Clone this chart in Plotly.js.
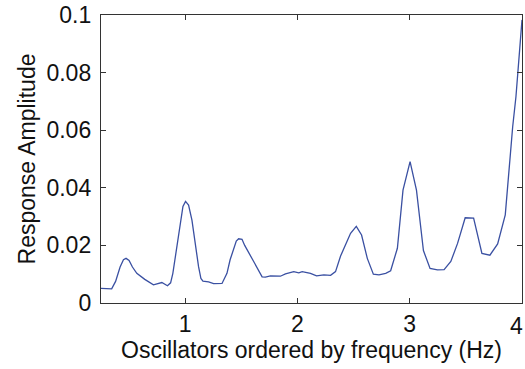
<!DOCTYPE html>
<html>
<head>
<meta charset="utf-8">
<script src="https://cdn.plot.ly/plotly-3.0.1.min.js"></script>
<style>html,body{margin:0;padding:0;background:#fff;}#chart{width:525px;height:369px;}</style>
</head>
<body>
<div id="chart"></div>
<script>
var freqHz = [0.25, 0.345, 0.38, 0.42, 0.45, 0.473, 0.50, 0.53, 0.569, 0.64, 0.717, 0.792, 0.842, 0.87, 0.89, 0.92, 0.955, 0.98, 1.003, 1.03, 1.06, 1.09, 1.119, 1.14, 1.158, 1.208, 1.253, 1.328, 1.372, 1.40, 1.432, 1.455, 1.476, 1.506, 1.53, 1.551, 1.61, 1.685, 1.714, 1.759, 1.848, 1.893, 1.967, 2.012, 2.042, 2.116, 2.17, 2.235, 2.295, 2.339, 2.384, 2.473, 2.524, 2.571, 2.622, 2.676, 2.726, 2.786, 2.83, 2.89, 2.94, 3.003, 3.06, 3.122, 3.181, 3.247, 3.306, 3.366, 3.426, 3.494, 3.569, 3.643, 3.714, 3.783, 3.851, 3.917, 3.946, 4.0];
var amplitude = [0.0051, 0.0049, 0.0075, 0.0125, 0.0150, 0.0155, 0.0148, 0.0125, 0.0103, 0.0082, 0.0063, 0.0071, 0.0060, 0.0070, 0.0103, 0.0180, 0.0265, 0.0335, 0.0353, 0.0340, 0.0288, 0.0200, 0.0126, 0.0085, 0.0076, 0.0073, 0.0067, 0.0068, 0.0103, 0.0150, 0.0190, 0.0215, 0.0223, 0.0221, 0.0200, 0.0184, 0.0144, 0.0091, 0.0090, 0.0094, 0.0093, 0.0101, 0.0109, 0.0105, 0.0109, 0.0103, 0.0094, 0.0098, 0.0096, 0.0109, 0.0163, 0.0242, 0.0266, 0.0236, 0.0155, 0.0100, 0.0098, 0.0103, 0.0112, 0.0190, 0.0392, 0.0491, 0.0392, 0.0182, 0.0120, 0.0115, 0.0116, 0.0144, 0.0207, 0.0296, 0.0295, 0.0172, 0.0166, 0.0205, 0.0306, 0.0612, 0.0716, 0.0983];
var xTicks = [1, 2, 3, 4];
var yTicks = [0, 0.02, 0.04, 0.06, 0.08, 0.1];
var yTickText = ['0', '0.02', '0.04', '0.06', '0.08', '0.1'];

var trace = {
  x: freqHz, y: amplitude, type: 'scatter', mode: 'lines',
  line: {color: '#3a50a2', width: 1.3},
  hoverinfo: 'skip'
};
var fontFam = 'Liberation Sans, Arial, Helvetica, sans-serif';
var fs = 23;
var layout = {
  width: 525, height: 369,
  margin: {l: 101, r: 3, t: 15, b: 66},
  paper_bgcolor: '#fff', plot_bgcolor: '#fff',
  showlegend: false,
  font: {family: fontFam, size: fs, color: '#111'},
  xaxis: {
    range: [0.25, 4], tickvals: xTicks, ticktext: ['1', '2', '3', ''],
    ticks: 'inside', ticklen: 5, tickcolor: '#333', tickwidth: 1,
    showline: true, linecolor: '#333', linewidth: 1.2, mirror: 'ticks',
    showgrid: false, zeroline: false,
    tickfont: {size: fs, family: fontFam, color: '#111'},
    title: {text: 'Oscillators ordered by frequency (Hz)', font: {size: fs, family: fontFam, color: '#111'}, standoff: 2}
  },
  yaxis: {
    range: [0, 0.1], tickvals: yTicks, ticktext: yTickText,
    ticks: 'inside', ticklen: 5, tickcolor: '#333', tickwidth: 1,
    showline: true, linecolor: '#333', linewidth: 1.2, mirror: 'ticks',
    showgrid: false, zeroline: false, ticklabelstandoff: 4,
    tickfont: {size: fs, family: fontFam, color: '#111'},
    title: {text: 'Response Amplitude', font: {size: fs, family: fontFam, color: '#111'}, standoff: 4}
  },
  annotations: [{
    x: xTicks[3], xref: 'x', y: 0, yref: 'paper', yshift: -8, xshift: 3,
    text: String(xTicks[3]), showarrow: false, xanchor: 'right', yanchor: 'top',
    font: {size: fs, family: fontFam, color: '#111'}
  }]
};
Plotly.newPlot('chart', [trace], layout, {displayModeBar: false, staticPlot: true});
</script>
</body>
</html>
